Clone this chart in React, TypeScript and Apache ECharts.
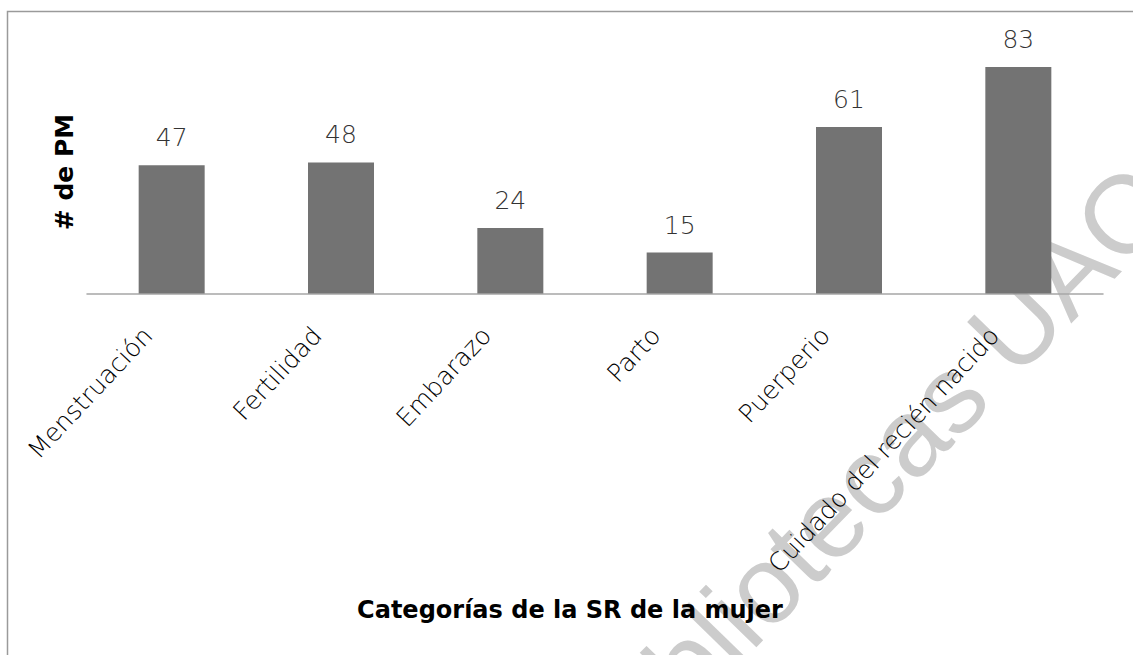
import React, { useEffect, useRef } from "react";
import * as echarts from "echarts";

const categories = [
  "Menstruación",
  "Fertilidad",
  "Embarazo",
  "Parto",
  "Puerperio",
  "Cuidado del recién nacido",
];
const values = [47, 48, 24, 15, 61, 83];
const yTitle = "# de PM";
const xTitle = "Categorías de la SR de la mujer";
const watermark = "Bibliotecas UAQ";

export default function App() {
  const ref = useRef<HTMLDivElement>(null);
  useEffect(() => {
    document.body.style.margin = "0";
    const chart = echarts.init(ref.current!, null, { renderer: "svg" });
    chart.setOption({
      animation: false,
      backgroundColor: "#ffffff",
      grid: { left: 87, right: 30, top: 20.5, bottom: 361.5 },
      xAxis: {
        type: "category",
        data: categories,
        axisLine: { show: true, lineStyle: { color: "#a6a6a6", width: 1.5 } },
        axisTick: { show: false },
        axisLabel: {
          rotate: 47,
          interval: 0,
          margin: 12,
          padding: [0, 35, 0, 0],
          color: "#000000",
          fontFamily: "DejaVu Sans",
          fontWeight: 200,
          fontSize: 25,
        },
      },
      yAxis: {
        type: "value",
        min: 0,
        max: 100,
        show: false,
        splitLine: { show: false },
      },
      series: [
        {
          type: "bar",
          data: values,
          barWidth: 66,
          itemStyle: { color: "#737373" },
          label: {
            show: true,
            position: "top",
            distance: 15,
            color: "#333333",
            fontFamily: "DejaVu Sans",
            fontWeight: 200,
            fontSize: 25,
          },
        },
      ],
      graphic: [
        {
          type: "text",
          x: 875,
          y: 470,
          rotation: 0.8,
          silent: true,
          z: -10,
          style: {
            text: watermark,
            fill: "#cccccc",
            font: "110px 'Liberation Sans'",
            textAlign: "center",
            textVerticalAlign: "middle",
          },
        },
        {
          type: "rect",
          shape: { x: 7.5, y: 11.5, width: 1300, height: 800 },
          style: { fill: "none", stroke: "#9a9a9a", lineWidth: 1.5 },
          silent: true,
        },
        {
          type: "text",
          x: 64,
          y: 172,
          rotation: Math.PI / 2,
          style: {
            text: yTitle,
            fill: "#000000",
            font: "bold 25px 'DejaVu Sans'",
            textAlign: "center",
            textVerticalAlign: "middle",
          },
        },
        {
          type: "text",
          x: 570,
          y: 610,
          style: {
            text: xTitle,
            fill: "#000000",
            font: "bold 24px 'DejaVu Sans'",
            textAlign: "center",
            textVerticalAlign: "middle",
          },
        },
      ],
    });
    return () => chart.dispose();
  }, []);
  return (
    <div
      ref={ref}
      style={{ position: "absolute", left: 0, top: 0, width: 1133, height: 655 }}
    />
  );
}
